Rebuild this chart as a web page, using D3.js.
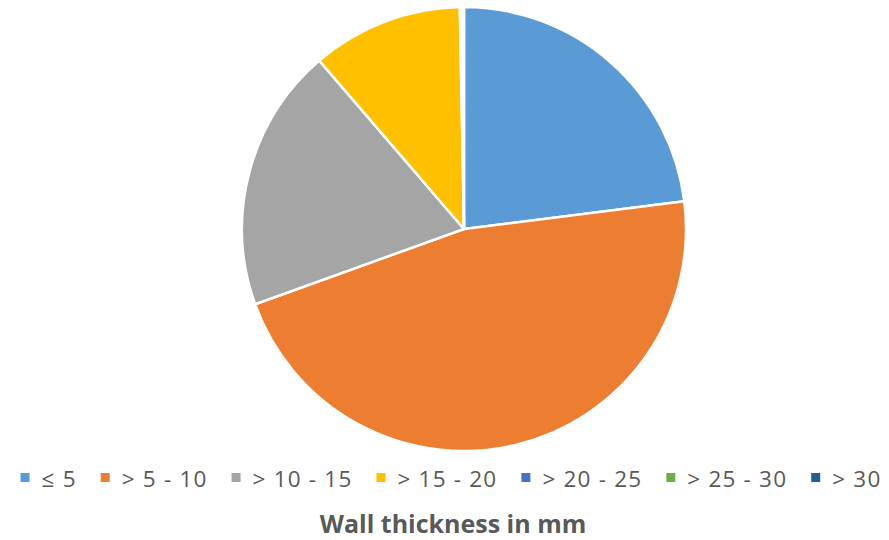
<!DOCTYPE html>
<html>
<head>
<meta charset="utf-8">
<script src="https://cdn.jsdelivr.net/npm/d3@7"></script>
<style>
  html, body { margin: 0; padding: 0; background: #fff; }
  svg { display: block; }
  text { font-family: "Open Sans", "Noto Sans", sans-serif; }
</style>
</head>
<body>
<svg id="chart" width="889" height="540"></svg>
<script>
// Share of parts per wall-thickness class (%)
const categories = ["≤ 5", "> 5 - 10", "> 10 - 15", "> 15 - 20", "> 20 - 25", "> 25 - 30", "> 30"];
const values = [23.0, 46.5, 19.2, 11.0, 0.1, 0.1, 0.1];
const colors = ["#5B9BD5", "#ED7D31", "#A5A5A5", "#FFC000", "#4472C4", "#70AD47", "#255E91"];
const title = "Wall thickness in mm";

const svg = d3.select("#chart");
const cx = 464, cy = 229, radius = 222;

const data = categories.map((c, i) => ({ category: c, value: values[i], color: colors[i] }));

const pie = d3.pie().value(d => d.value).sort(null);
const arc = d3.arc().innerRadius(0).outerRadius(radius);

svg.append("g")
  .attr("transform", `translate(${cx},${cy})`)
  .selectAll("path")
  .data(pie(data))
  .join("path")
  .attr("d", arc)
  .attr("fill", d => d.data.color)
  .attr("stroke", "#fff")
  .attr("stroke-width", 2.5)
  .attr("stroke-linejoin", "round");

// Legend: one row of square swatches with labels, centred under the pie
const legend = svg.append("g").attr("class", "legend");
const fontSize = 22.5, swatch = 9, swatchGap = 12, itemGap = 24;
let x = 0;
const items = legend.selectAll("g.item")
  .data(data)
  .join("g")
  .attr("class", "item");

items.append("rect")
  .attr("width", swatch)
  .attr("height", swatch)
  .attr("y", -14)
  .attr("fill", d => d.color);

items.append("text")
  .attr("x", swatch + swatchGap)
  .attr("y", 0)
  .attr("font-size", fontSize)
  .attr("letter-spacing", 1.2)
  .attr("fill", "#595959")
  .text(d => d.category);

items.each(function () {
  const w = this.querySelector("text").getComputedTextLength() + swatch + swatchGap;
  d3.select(this).attr("transform", `translate(${x},0)`);
  x += w + itemGap;
});
const legendWidth = x - itemGap;
legend.attr("transform", `translate(${451 - legendWidth / 2},487)`);

svg.append("text")
  .attr("x", 453)
  .attr("y", 533)
  .attr("text-anchor", "middle")
  .attr("font-size", 25)
  .attr("font-weight", "bold")
  .attr("fill", "#595959")
  .text(title);
</script>
</body>
</html>
